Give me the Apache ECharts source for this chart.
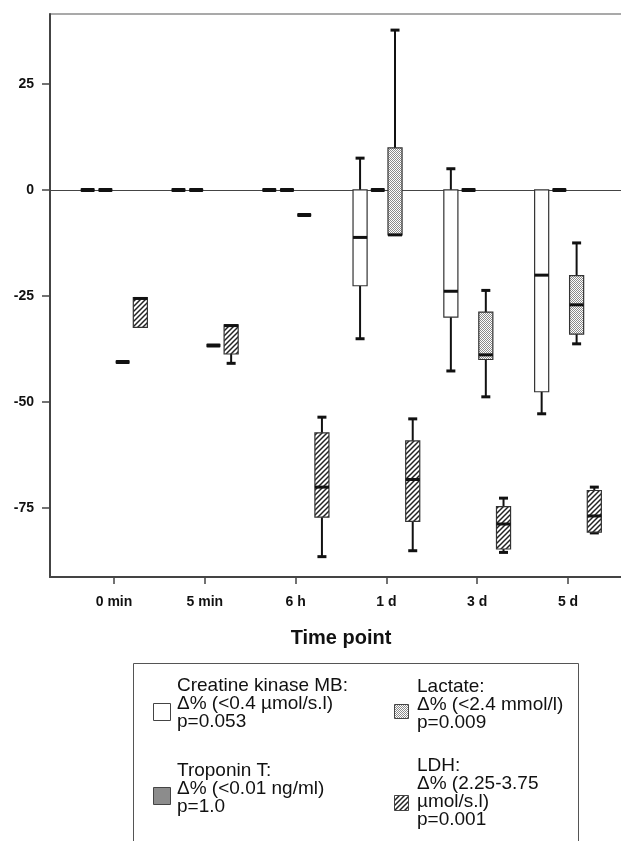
<!DOCTYPE html>
<html>
<head>
<meta charset="utf-8">
<script src="https://cdn.jsdelivr.net/npm/echarts@6/dist/echarts.min.js"></script>
<style>
html,body{margin:0;padding:0;background:#fff;}
#chart{width:621px;height:841px;}
</style>
</head>
<body>
<div id="chart"></div>
<script>
// ---- data ----
var categories = ['0 min', '5 min', '6 h', '1 d', '3 d', '5 d'];
var yTicks = [-75, -50, -25, 0, 25];
var xTicks = [0, 1, 2, 3, 4, 5];
// each row: [min, q1, median, q3, max]
var ckmb = [
  [0, 0, 0, 0, 0],
  [0, 0, 0, 0, 0],
  [0, 0, 0, 0, 0],
  [-35.1, -22.6, -11.2, 0, 7.5],
  [-42.7, -30.0, -23.9, 0, 5.0],
  [-52.8, -47.6, -20.1, 0, 0]
];
var troponin = [
  [0, 0, 0, 0, 0],
  [0, 0, 0, 0, 0],
  [0, 0, 0, 0, 0],
  [0, 0, 0, 0, 0],
  [0, 0, 0, 0, 0],
  [0, 0, 0, 0, 0]
];
var lactate = [
  [-40.6, -40.6, -40.6, -40.6, -40.6],
  [-36.7, -36.7, -36.7, -36.7, -36.7],
  [-5.9, -5.9, -5.9, -5.9, -5.9],
  [-10.6, -10.6, -10.6, 9.9, 37.7],
  [-48.8, -40.0, -38.9, -28.8, -23.7],
  [-36.3, -34.0, -27.1, -20.2, -12.5]
];
var ldh = [
  [-32.4, -32.4, -25.6, -25.4, -25.4],
  [-40.9, -38.7, -32.0, -31.8, -31.8],
  [-86.5, -77.2, -70.1, -57.3, -53.6],
  [-85.1, -78.2, -68.3, -59.2, -54.0],
  [-85.5, -84.7, -78.8, -74.7, -72.7],
  [-80.9, -80.7, -76.9, -70.9, -70.1]
];
var legendTexts = [
  'Creatine kinase MB:\nΔ% (<0.4 µmol/s.l)\np=0.053',
  'Troponin T:\nΔ% (<0.01 ng/ml)\np=1.0',
  'Lactate:\nΔ% (<2.4 mmol/l)\np=0.009',
  'LDH:\nΔ% (2.25-3.75\nµmol/s.l)\np=0.001'
];

// ---- styling ----
var FONT = '"Liberation Sans", Arial, sans-serif';
var BOX_W = 0.155;
var OFFSETS = [-0.29, -0.095, 0.095, 0.29];

function makeDots() {
  var c = document.createElement('canvas');
  c.width = 2; c.height = 2;
  var g = c.getContext('2d');
  g.fillStyle = '#ffffff'; g.fillRect(0, 0, 2, 2);
  g.fillStyle = '#8a8a8a'; g.fillRect(0, 0, 1, 1); g.fillRect(1, 1, 1, 1);
  return c;
}
function makeHatch() {
  var s = 5;
  var c = document.createElement('canvas');
  c.width = s; c.height = s;
  var g = c.getContext('2d');
  g.fillStyle = '#ffffff'; g.fillRect(0, 0, s, s);
  g.strokeStyle = '#222'; g.lineWidth = 1.5;
  g.beginPath();
  g.moveTo(0, s); g.lineTo(s, 0);
  g.moveTo(-1, 1); g.lineTo(1, -1);
  g.moveTo(s - 1, s + 1); g.lineTo(s + 1, s - 1);
  g.stroke();
  return c;
}
var dotPattern = { image: makeDots(), repeat: 'repeat' };
var hatchPattern = { image: makeHatch(), repeat: 'repeat' };

var fills = ['#ffffff', '#8c8c8c', dotPattern, hatchPattern];

function toData(arr) {
  return arr.map(function (r, i) { return [i, r[0], r[1], r[2], r[3], r[4]]; });
}

function makeRender(seriesIdx) {
  return function (params, api) {
    var xi = api.value(0) + OFFSETS[seriesIdx];
    var mn = api.value(1), q1 = api.value(2), md = api.value(3), q3 = api.value(4), mx = api.value(5);
    var hw = api.size([BOX_W, 0])[0] / 2;
    var cx = api.coord([xi, 0])[0];
    var Y = function (v) { return api.coord([xi, v])[1]; };
    var ch = [];
    if (mn === mx) {
      ch.push({ type: 'rect', shape: { x: cx - hw, y: Y(md) - 2, width: 2 * hw, height: 4, r: 1 },
        style: { fill: '#111' } });
      return { type: 'group', children: ch };
    }
    var capW = 4.5;
    if (mx > q3) {
      ch.push({ type: 'line', shape: { x1: cx, y1: Y(q3), x2: cx, y2: Y(mx) }, style: { stroke: '#111', lineWidth: 2 } });
      ch.push({ type: 'line', shape: { x1: cx - capW, y1: Y(mx), x2: cx + capW, y2: Y(mx) }, style: { stroke: '#111', lineWidth: 3 } });
    }
    if (mn < q1) {
      ch.push({ type: 'line', shape: { x1: cx, y1: Y(q1), x2: cx, y2: Y(mn) }, style: { stroke: '#111', lineWidth: 2 } });
      ch.push({ type: 'line', shape: { x1: cx - capW, y1: Y(mn), x2: cx + capW, y2: Y(mn) }, style: { stroke: '#111', lineWidth: 3 } });
    }
    ch.push({ type: 'rect', shape: { x: cx - hw, y: Y(q3), width: 2 * hw, height: Y(q1) - Y(q3) },
      style: { fill: fills[seriesIdx], stroke: '#333', lineWidth: 1.2 } });
    ch.push({ type: 'line', shape: { x1: cx - hw, y1: Y(md), x2: cx + hw, y2: Y(md) },
      style: { stroke: '#111', lineWidth: 3 } });
    return { type: 'group', children: ch };
  };
}

var seriesData = [ckmb, troponin, lactate, ldh];
var series = seriesData.map(function (arr, k) {
  var s = {
    type: 'custom',
    name: ['CK-MB', 'Troponin T', 'Lactate', 'LDH'][k],
    renderItem: makeRender(k),
    data: toData(arr),
    encode: { x: 0, y: [1, 2, 3, 4, 5] },
    z: 3,
    silent: true
  };
  if (k === 0) {
    s.markLine = {
      silent: true, symbol: 'none', z: 1,
      label: { show: false },
      lineStyle: { color: '#444', width: 1.2, type: 'solid' },
      data: [{ yAxis: 0 }],
      animation: false
    };
  }
  return s;
});

var textStyleLegend = { font: '19px ' + FONT, fill: '#111', lineHeight: 18 };
var graphics = [
  { type: 'rect', shape: { x: 133.5, y: 663.5, width: 445, height: 200 },
    style: { fill: 'none', stroke: '#555', lineWidth: 1 } },
  { type: 'rect', shape: { x: 153.5, y: 703.5, width: 17, height: 17 }, style: { fill: '#fff', stroke: '#444', lineWidth: 1 } },
  { type: 'rect', shape: { x: 153.5, y: 787.5, width: 17, height: 17 }, style: { fill: '#8c8c8c', stroke: '#444', lineWidth: 1 } },
  { type: 'rect', shape: { x: 394.5, y: 704.5, width: 14, height: 14 }, style: { fill: dotPattern, stroke: '#444', lineWidth: 1 } },
  { type: 'rect', shape: { x: 394.5, y: 795.5, width: 14, height: 15 }, style: { fill: hatchPattern, stroke: '#444', lineWidth: 1 } },
  { type: 'text', x: 177, y: 677, style: Object.assign({ text: legendTexts[0] }, textStyleLegend) },
  { type: 'text', x: 177, y: 762, style: Object.assign({ text: legendTexts[1] }, textStyleLegend) },
  { type: 'text', x: 417, y: 678, style: Object.assign({ text: legendTexts[2] }, textStyleLegend) },
  { type: 'text', x: 417, y: 757, style: Object.assign({ text: legendTexts[3] }, textStyleLegend) }
];

var chart = echarts.init(document.getElementById('chart'), null, { renderer: 'canvas' });
chart.setOption({
  animation: false,
  backgroundColor: '#fff',
  grid: { left: 50, top: 14, width: 582, height: 563, show: true, borderColor: '#555', borderWidth: 1.2,
    backgroundColor: 'transparent', outerBoundsMode: 'none', containLabel: false },
  xAxis: {
    type: 'value', min: -0.705, max: 5.705,
    name: 'Time point', nameLocation: 'middle', nameGap: 51,
    nameTextStyle: { fontFamily: FONT, fontSize: 20, fontWeight: 'bold', color: '#111' },
    axisLine: { show: true, onZero: false, lineStyle: { color: '#444', width: 2 } },
    axisTick: { show: true, length: 7, lineStyle: { color: '#444', width: 1.5 }, customValues: xTicks },
    axisLabel: { customValues: xTicks, margin: 18, fontFamily: FONT, fontSize: 14, fontWeight: 'bold', color: '#111',
      formatter: function (v) { return categories[Math.round(v)]; } },
    splitLine: { show: false }
  },
  yAxis: {
    type: 'value', min: -91.3, max: 41.5,
    axisLine: { show: true, onZero: false, lineStyle: { color: '#444', width: 2 } },
    axisTick: { show: true, length: 8, lineStyle: { color: '#444', width: 1.5 }, customValues: yTicks },
    axisLabel: { customValues: yTicks, margin: 16, fontFamily: FONT, fontSize: 14, fontWeight: 'bold', color: '#111' },
    splitLine: { show: false }
  },
  series: series,
  graphic: graphics
});
</script>
</body>
</html>
